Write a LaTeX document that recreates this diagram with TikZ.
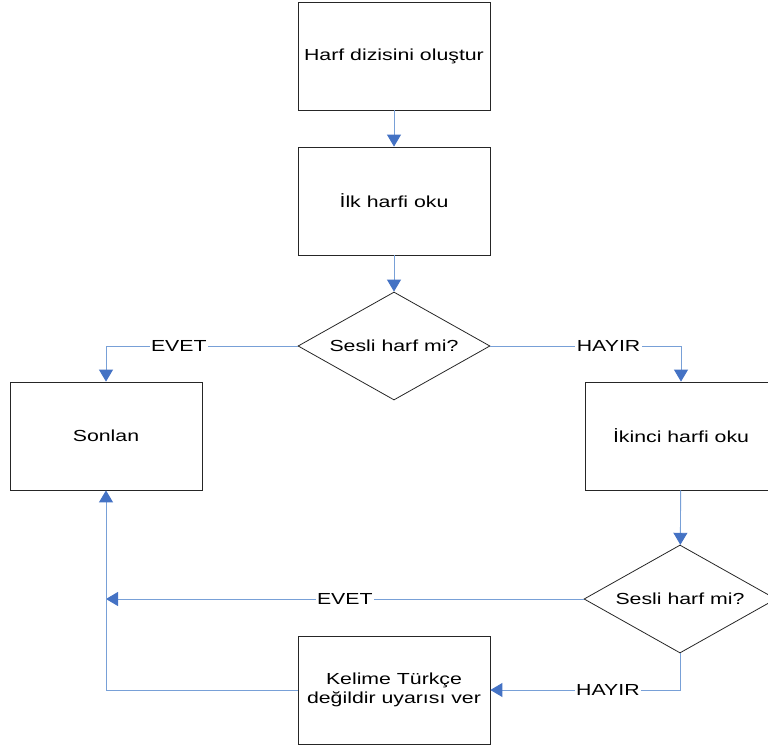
\documentclass[tikz,border=0pt]{standalone}
\usepackage{fontspec}
\setmainfont{Liberation Sans}[FakeStretch=1.33]
\usetikzlibrary{shapes.geometric,arrows.meta}
\definecolor{cizgi}{RGB}{120,160,215}
\definecolor{ucrenk}{RGB}{68,114,196}
\tikzset{
  kutu/.style={draw=black!85, line width=0.8pt, minimum width=192pt, minimum height=108pt,
    inner sep=0pt, align=center, font=\fontsize{16}{19.5}\selectfont},
  karar/.style={diamond, draw=black!85, line width=0.8pt, aspect=1.78, minimum width=192pt,
    minimum height=108pt, inner sep=0pt, font=\fontsize{16}{19.5}\selectfont},
  akis/.style={draw=cizgi, line width=0.9pt, -{Triangle[width=14pt,length=12pt,color=ucrenk]}},
  etiket/.style={fill=white, inner sep=1.5pt, font=\fontsize{16}{19.5}\selectfont}
}
\begin{document}
\begin{tikzpicture}[x=1pt,y=-1pt]
    \useasboundingbox (0,0) rectangle (768,746);
    \node[kutu] (harf) at (394,56) {Harf dizisini oluştur};
    \node[kutu] (ilk) at (394,201) {İlk harfi oku};
    \node[karar] (sesli1) at (394,346) {Sesli harf mi?};
    \node[kutu] (sonlan) at (106,436) {Sonlan};
    \node[kutu] (ikinci) at (681,436) {İkinci harfi oku};
    \node[karar] (sesli2) at (680,599) {Sesli harf mi?};
    \node[kutu] (kelime) at (394,690) {Kelime Türkçe\\değildir uyarısı ver};
    \coordinate (evetuc) at (sonlan.south |- sesli2.west);
    \draw[akis] (harf) -- (ilk);
    \draw[akis] (ilk) -- (sesli1);
    \draw[akis] (sesli1.west) -| (sonlan.north) node[etiket,pos=0.31]{EVET};
    \draw[akis] (sesli1.east) -| (ikinci.north) node[etiket,pos=0.31]{HAYIR};
    \draw[akis] (ikinci) -- (sesli2);
    \draw[akis] (sesli2.west) -- (evetuc) node[etiket,midway]{EVET};
    \draw[akis] (sesli2.south) |- (kelime.east) node[etiket,pos=0.69]{HAYIR};
    \draw[akis] (kelime.west) -| (sonlan.south);
\end{tikzpicture}
\end{document}
